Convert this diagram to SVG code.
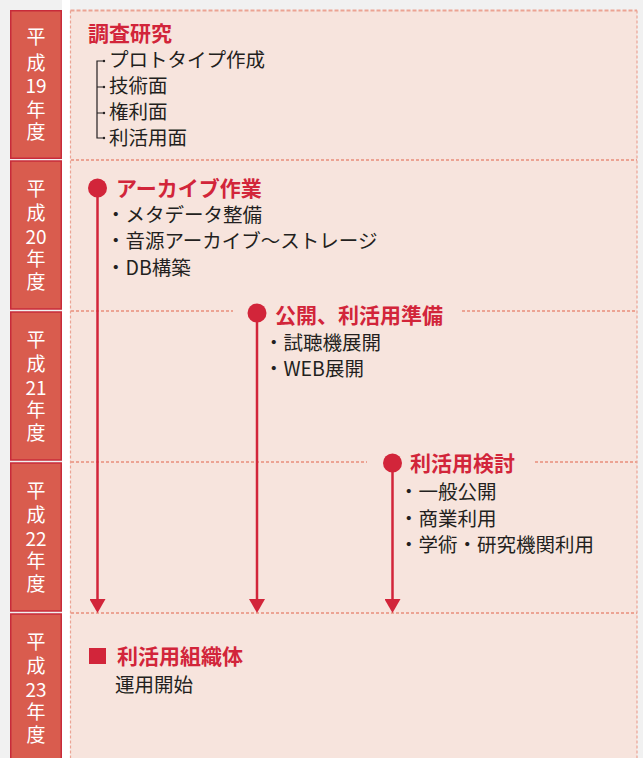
<svg xmlns="http://www.w3.org/2000/svg" width="643" height="758" viewBox="0 0 643 758">
<defs>
<style>
.bg{fill:#f1f1f1}
.yr{fill:#d95c4e;stroke:#c82b3a;stroke-width:1.5}
.yt{fill:#ffffff;font-family:"Noto Sans CJK JP","Noto Sans",sans-serif;font-size:19px;text-anchor:middle}
.panel{fill:#f7e4dd}
.bd{stroke:#eca393;stroke-width:1.2;stroke-dasharray:3 2;fill:none}
.bdt{stroke:#eca393;stroke-width:2;stroke-dasharray:4 2;fill:none}
.sep{stroke:#eca393;stroke-width:2;stroke-dasharray:3 2;fill:none}
.ttl{fill:#d2253a;font-family:"Noto Sans CJK JP","Noto Sans",sans-serif;font-size:21px;font-weight:bold}
.txt{fill:#231f20;font-family:"Noto Sans CJK JP","Noto Sans",sans-serif;font-size:19.5px}
.ln{stroke:#d2253a;stroke-width:2.5;fill:none}
.dot{fill:#d2253a}
.tree{stroke:#231f20;stroke-width:1.2;fill:none}
</style>
<marker id="ah" viewBox="0 0 14 16" refX="0" refY="8" markerWidth="14" markerHeight="16" markerUnits="userSpaceOnUse" orient="auto">
<path d="M0,0 L14,8 L0,16 Z" fill="#d2253a"/>
</marker>
</defs>
<rect class="bg" x="0" y="0" width="643" height="758"/>
<rect x="62" y="0" width="8" height="758" fill="#ffffff"/>
<rect class="panel" x="70.5" y="10.5" width="566.5" height="748"/>
<line class="bdt" x1="70.5" y1="10.5" x2="637" y2="10.5"/>
<line class="bd" x1="70.5" y1="10.5" x2="70.5" y2="758"/>
<line class="bd" x1="637" y1="10.5" x2="637" y2="758"/>
<g id="separators">
<line class="sep" x1="71" y1="160" x2="637" y2="160"/>
<line class="sep" x1="71" y1="311" x2="233" y2="311"/>
<line class="sep" x1="462" y1="311" x2="637" y2="311"/>
<line class="sep" x1="71" y1="462" x2="367" y2="462"/>
<line class="sep" x1="535" y1="462" x2="637" y2="462"/>
<line class="sep" x1="71" y1="613" x2="637" y2="613"/>
</g>
<g id="year19">
<rect class="yr" x="10.75" y="10.75" width="50.5" height="147.5"/>
<text class="yt" x="36" y="44"><tspan x="36">平</tspan><tspan x="36" dy="26">成</tspan><tspan x="36" dy="23">19</tspan><tspan x="36" dy="24">年</tspan><tspan x="36" dy="22">度</tspan></text>
</g>
<g id="year20">
<rect class="yr" x="10.75" y="161" width="50.5" height="148"/>
<text class="yt" x="36" y="196"><tspan x="36">平</tspan><tspan x="36" dy="24">成</tspan><tspan x="36" dy="24">20</tspan><tspan x="36" dy="22">年</tspan><tspan x="36" dy="23">度</tspan></text>
</g>
<g id="year21">
<rect class="yr" x="10.75" y="312" width="50.5" height="148"/>
<text class="yt" x="36" y="347"><tspan x="36">平</tspan><tspan x="36" dy="24">成</tspan><tspan x="36" dy="24">21</tspan><tspan x="36" dy="22">年</tspan><tspan x="36" dy="23">度</tspan></text>
</g>
<g id="year22">
<rect class="yr" x="10.75" y="463" width="50.5" height="148"/>
<text class="yt" x="36" y="498"><tspan x="36">平</tspan><tspan x="36" dy="24">成</tspan><tspan x="36" dy="24">22</tspan><tspan x="36" dy="22">年</tspan><tspan x="36" dy="23">度</tspan></text>
</g>
<g id="year23">
<rect class="yr" x="10.75" y="614" width="50.5" height="150"/>
<text class="yt" x="36" y="649"><tspan x="36">平</tspan><tspan x="36" dy="24">成</tspan><tspan x="36" dy="24">23</tspan><tspan x="36" dy="22">年</tspan><tspan x="36" dy="23">度</tspan></text>
</g>
<g id="connectors">
<path class="tree" d="M104,61 H97 V138 H104 M97,87 H104 M97,113 H104"/>
<circle cx="104" cy="61" r="1.2" fill="#231f20"/><circle cx="104" cy="87" r="1.2" fill="#231f20"/><circle cx="104" cy="113" r="1.2" fill="#231f20"/><circle cx="104" cy="138" r="1.2" fill="#231f20"/>
<line class="ln" x1="97.5" y1="188" x2="97.5" y2="599" marker-end="url(#ah)"/>
<line class="ln" x1="257" y1="313" x2="257" y2="599" marker-end="url(#ah)"/>
<line class="ln" x1="392.5" y1="463" x2="392.5" y2="599" marker-end="url(#ah)"/>
</g>
<g id="research">
<text class="ttl" x="88" y="41">調査研究</text>
<text class="txt" x="109" y="67">プロトタイプ作成</text>
<text class="txt" x="109" y="93">技術面</text>
<text class="txt" x="109" y="119">権利面</text>
<text class="txt" x="109" y="145">利活用面</text>
</g>
<g id="archive">
<circle class="dot" cx="97.5" cy="188" r="9.5"/>
<text class="ttl" x="116" y="196">アーカイブ作業</text>
<text class="txt" x="106" y="222">・メタデータ整備</text>
<text class="txt" x="106" y="248">・音源アーカイブ〜ストレージ</text>
<text class="txt" x="106" y="275">・DB構築</text>
</g>
<g id="publish">
<circle class="dot" cx="257" cy="313" r="9.5"/>
<text class="ttl" x="275" y="323">公開、利活用準備</text>
<text class="txt" x="264" y="350">・試聴機展開</text>
<text class="txt" x="264" y="376">・WEB展開</text>
</g>
<g id="study">
<circle class="dot" cx="392.5" cy="463" r="9.5"/>
<text class="ttl" x="410" y="471">利活用検討</text>
<text class="txt" x="399" y="499">・一般公開</text>
<text class="txt" x="399" y="526">・商業利用</text>
<text class="txt" x="399" y="552">・学術・研究機関利用</text>
</g>
<g id="organization">
<rect class="dot" x="89" y="648" width="17" height="16"/>
<text class="ttl" x="117" y="664">利活用組織体</text>
<text class="txt" x="115" y="692">運用開始</text>
</g>
</svg>
